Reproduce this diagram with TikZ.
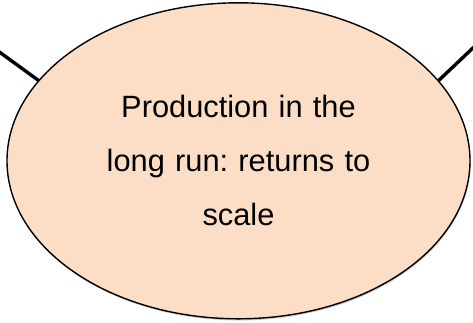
\documentclass[tikz,border=0pt]{standalone}
\usepackage{fontspec}
\setmainfont{Liberation Sans}
\usetikzlibrary{shapes.geometric,shadows}
\definecolor{peach}{RGB}{252,222,198}
\tikzset{
  bubble/.style={ellipse, draw=black, line width=1.4pt, fill=peach,
    minimum width=463pt, minimum height=316pt, inner sep=0pt,
    drop shadow={shadow xshift=0.6pt, shadow yshift=-1.6pt, opacity=0.35, fill=black!60},
    font=\fontsize{30.8}{54}\selectfont\frenchspacing, align=center, text width=320pt},
  spoke/.style={line width=3.4pt, black}
}
\begin{document}
\begin{tikzpicture}[x=1pt,y=-1pt]
\useasboundingbox (0,0) rectangle (473,322);
\coordinate (l) at (-2,51);
\coordinate (r) at (475,46);
\coordinate (la) at (42,83);
\coordinate (ra) at (436,83);
\draw[spoke] (l) -- (la);
\draw[spoke] (r) -- (ra);
\node[bubble] (b) at (238.5,160.8) {Production in the\\long run: returns to\\scale};
\end{tikzpicture}
\end{document}
